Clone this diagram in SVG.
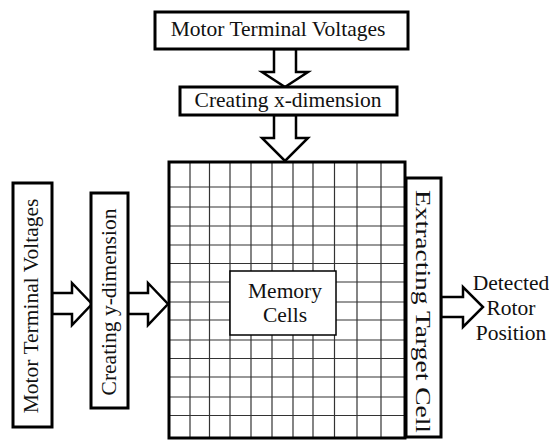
<svg xmlns="http://www.w3.org/2000/svg" width="549" height="440" viewBox="0 0 549 440">
<style>
.box{fill:#fff;stroke:#000;stroke-width:3}
.arr{fill:#fff;stroke:#000;stroke-width:2.5;stroke-linejoin:miter}
.t{font-family:"Liberation Serif","Times New Roman",serif;font-size:21.5px;fill:#111}
.g{stroke:#333;stroke-width:1.2}
</style>
<rect width="549" height="440" fill="#fff"/>
<g id="connectors">
<polygon class="arr" points="274,49 296,49 296,72 308,72 285,87 262,72 274,72"/>
<polygon class="arr" points="274,115 296,115 296,138 308,138 285,161 262,138 274,138"/>
<polygon class="arr" points="52,293 72,293 72,283 92,304 72,325 72,314 52,314"/>
<polygon class="arr" points="128,293 148,293 148,283 168,304 148,325 148,314 128,314"/>
<polygon class="arr" points="441,297 463,297 463,287 483,307 463,327 463,317 441,317"/>
</g>
<g id="top-voltages">
<rect class="box" x="155" y="12" width="253" height="37"/>
<text class="t" x="278" y="36" text-anchor="middle">Motor Terminal Voltages</text>
</g>
<g id="x-dimension">
<rect class="box" x="180" y="87" width="217" height="28"/>
<text class="t" x="288" y="107" text-anchor="middle">Creating x-dimension</text>
</g>
<g id="left-voltages">
<rect class="box" x="13" y="183" width="39" height="244"/>
<text class="t" transform="translate(38,306) rotate(-90)" text-anchor="middle">Motor Terminal Voltages</text>
</g>
<g id="y-dimension">
<rect class="box" x="91" y="193" width="37" height="215"/>
<text class="t" transform="translate(116,302) rotate(-90)" text-anchor="middle" font-size="22">Creating y-dimension</text>
</g>
<g id="memory-grid">
<rect x="169" y="162" width="236" height="276" fill="#fff" stroke="none"/>
<g class="g">
<line x1="190" y1="162" x2="190" y2="438"/>
<line x1="209.5" y1="162" x2="209.5" y2="438"/>
<line x1="230" y1="162" x2="230" y2="438"/>
<line x1="251" y1="162" x2="251" y2="438"/>
<line x1="272" y1="162" x2="272" y2="438"/>
<line x1="293" y1="162" x2="293" y2="438"/>
<line x1="313" y1="162" x2="313" y2="438"/>
<line x1="334.5" y1="162" x2="334.5" y2="438"/>
<line x1="357" y1="162" x2="357" y2="438"/>
<line x1="381" y1="162" x2="381" y2="438"/>
<line x1="169" y1="187" x2="405" y2="187"/>
<line x1="169" y1="207" x2="405" y2="207"/>
<line x1="169" y1="226" x2="405" y2="226"/>
<line x1="169" y1="245" x2="405" y2="245"/>
<line x1="169" y1="263.5" x2="405" y2="263.5"/>
<line x1="169" y1="282" x2="405" y2="282"/>
<line x1="169" y1="302" x2="405" y2="302"/>
<line x1="169" y1="320" x2="405" y2="320"/>
<line x1="169" y1="340" x2="405" y2="340"/>
<line x1="169" y1="358.5" x2="405" y2="358.5"/>
<line x1="169" y1="377" x2="405" y2="377"/>
<line x1="169" y1="397" x2="405" y2="397"/>
<line x1="169" y1="415.5" x2="405" y2="415.5"/>
</g>
<rect x="169" y="162" width="236" height="276" fill="none" stroke="#000" stroke-width="3"/>
</g>
<g id="memory-cells">
<rect x="230" y="271" width="106" height="64" fill="#fff" stroke="#000" stroke-width="1.5"/>
<text class="t" x="285" y="298" text-anchor="middle">Memory</text>
<text class="t" x="285" y="322" text-anchor="middle">Cells</text>
</g>
<g id="extract">
<rect class="box" x="406" y="178" width="35" height="259"/>
<text class="t" transform="translate(416,311.5) rotate(90)" text-anchor="middle" font-size="24" textLength="243" lengthAdjust="spacingAndGlyphs">Extracting Target Cell</text>
</g>
<g id="output">
<text class="t" x="511" y="290" text-anchor="middle">Detected</text>
<text class="t" x="511" y="315" text-anchor="middle">Rotor</text>
<text class="t" x="511" y="340" text-anchor="middle">Position</text>
</g>
</svg>
